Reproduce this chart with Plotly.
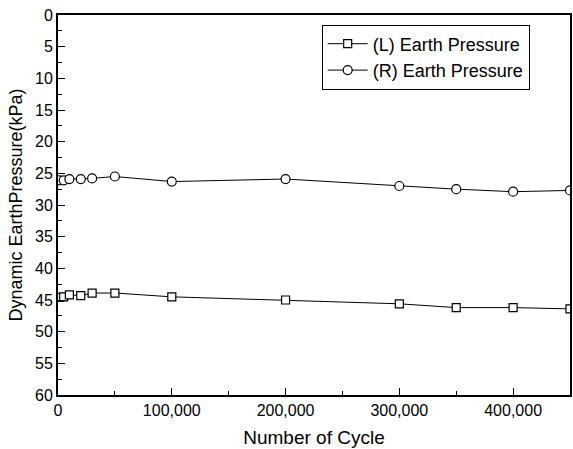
import plotly.graph_objects as go

# Number of loading cycles at each measurement
cycles = [1000, 5000, 10000, 20000, 30000, 50000, 100000, 200000, 300000, 350000, 400000, 450000]

# Dynamic earth pressure (kPa), left and right walls
left_pressure = [44.6, 44.5, 44.2, 44.3, 43.9, 43.9, 44.5, 45.0, 45.6, 46.2, 46.2, 46.4]
right_pressure = [26.1, 26.1, 25.9, 25.9, 25.8, 25.5, 26.3, 25.9, 27.0, 27.5, 27.9, 27.7]

x_tickvals = [0, 100000, 200000, 300000, 400000]
x_ticktext = ["0", "100,000", "200,000", "300,000", "400,000"]
y_tickvals = [0, 5, 10, 15, 20, 25, 30, 35, 40, 45, 50, 55, 60]

FONT = "Liberation Sans, Arial, sans-serif"

fig = go.Figure()
fig.add_trace(go.Scatter(
    x=cycles, y=left_pressure, mode="lines+markers", name="(L) Earth Pressure",
    line=dict(color="black", width=1),
    marker=dict(symbol="square", size=8, color="white", line=dict(color="black", width=1.2)),
))
fig.add_trace(go.Scatter(
    x=cycles, y=right_pressure, mode="lines+markers", name="(R) Earth Pressure",
    line=dict(color="black", width=1),
    marker=dict(symbol="circle", size=9, color="white", line=dict(color="black", width=1.2)),
))

fig.update_layout(
    width=573, height=449,
    margin=dict(l=58, r=1, t=15, b=54),
    paper_bgcolor="white", plot_bgcolor="white",
    font=dict(family=FONT, color="black", size=16),
    showlegend=True,
    legend=dict(
        x=0.515, y=0.975, xanchor="left", yanchor="top",
        bordercolor="black", borderwidth=1, bgcolor="white",
        font=dict(size=18, family=FONT), tracegroupgap=0, itemwidth=40,
    ),
    xaxis=dict(
        range=[0, 450000], tickvals=x_tickvals, ticktext=x_ticktext,
        ticks="inside", ticklen=7, tickwidth=1, tickcolor="black",
        minor=dict(ticks="inside", ticklen=4, dtick=50000, tickcolor="black"),
        showline=True, linecolor="black", linewidth=2, mirror=True,
        showgrid=False, zeroline=False,
        title=dict(text="Number of Cycle", font=dict(size=19), standoff=12),
        tickfont=dict(size=16),
    ),
    yaxis=dict(
        range=[60, 0], tickvals=y_tickvals,
        ticks="inside", ticklen=7, tickwidth=1, tickcolor="black",
        minor=dict(ticks="inside", ticklen=4, dtick=2.5, tickcolor="black"),
        showline=True, linecolor="black", linewidth=2, mirror=True,
        showgrid=False, zeroline=False,
        title=dict(text="Dynamic EarthPressure(kPa)", font=dict(size=18), standoff=8),
        tickfont=dict(size=16),
    ),
)

fig.write_html("out.html")
